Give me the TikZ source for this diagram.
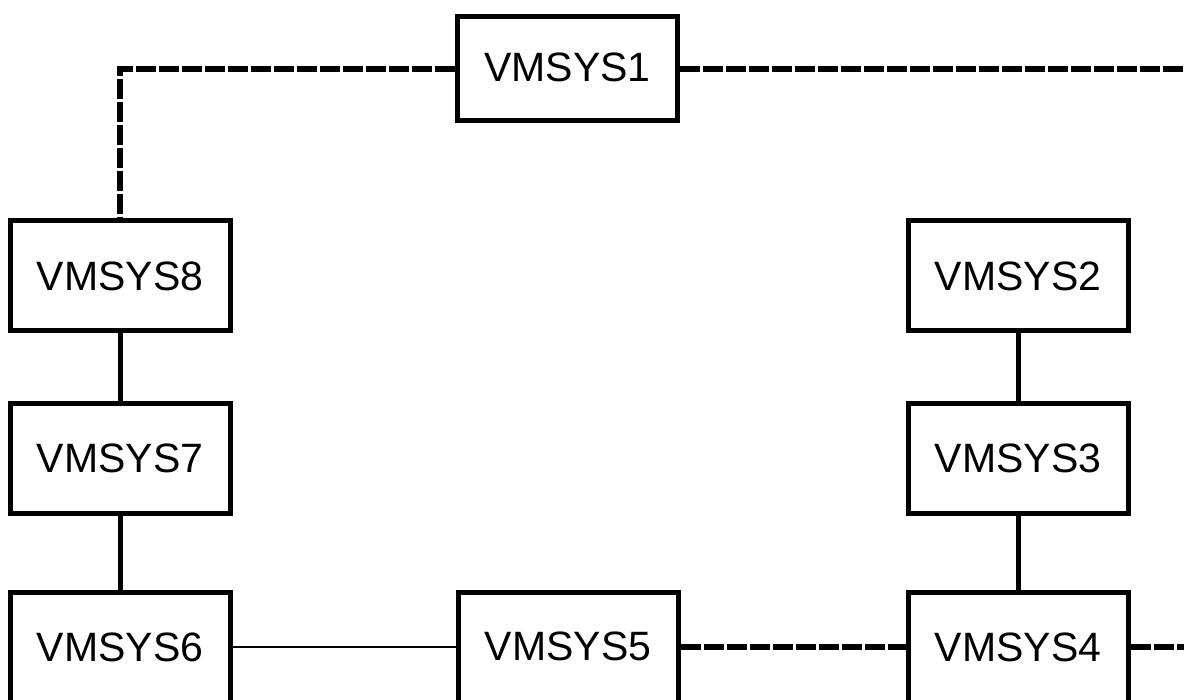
\documentclass[tikz,border=0pt]{standalone}
\usepackage{fontspec}
\setmainfont{Liberation Sans}
\begin{document}
\begin{tikzpicture}[x=1pt,y=-1pt,
  sysbox/.style={draw=black,line width=5pt,fill=white,minimum width=220pt,minimum height=110pt,inner sep=0pt,font=\fontsize{41}{49}\selectfont},
  solidlink/.style={draw=black,line width=5pt},
  dashlink/.style={draw=black,line width=5.5pt,dash pattern=on 20pt off 3pt},
  thinlink/.style={draw=black,line width=1.6pt}]
\useasboundingbox (0,0) rectangle (1184,700);
\clip (0,0) rectangle (1184,700);
\fill[white] (0,0) rectangle (1184,700);
\coordinate (r1) at (1200,69);
\coordinate (r4) at (1200,647);
\node[sysbox,minimum height=104pt] (v1) at (567.5,69) {\raisebox{4pt}{VMSYS1}};
\node[sysbox] (v8) at (120,276) {VMSYS8};
\node[sysbox] (v7) at (120,458.5) {VMSYS7};
\node[sysbox] (v6) at (120,647) {VMSYS6};
\node[sysbox] (v5) at (568,647) {\raisebox{2pt}{VMSYS5}};
\node[sysbox] (v4) at (1018,647) {VMSYS4};
\node[sysbox] (v2) at (1018,276) {VMSYS2};
\node[sysbox] (v3) at (1018,458.5) {VMSYS3};
\draw[dashlink] (v1.west) -| (v8.north);
\draw[dashlink] (v1.east) -- (r1);
\draw[solidlink] (v8) -- (v7);
\draw[solidlink] (v7) -- (v6);
\draw[solidlink] (v2) -- (v3);
\draw[solidlink] (v3) -- (v4);
\draw[thinlink] (v6) -- (v5);
\draw[dashlink] (v5) -- (v4);
\draw[dashlink] (v4.east) -- (r4);
\end{tikzpicture}
\end{document}
